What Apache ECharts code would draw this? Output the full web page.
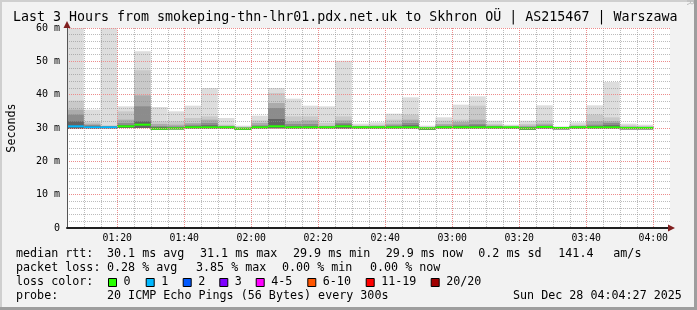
<!DOCTYPE html>
<html><head><meta charset="utf-8">
<script src="https://cdn.jsdelivr.net/npm/echarts@6.0.0/dist/echarts.min.js"></script>
<style>html,body{margin:0;padding:0;background:#f2f2f2}#c{width:697px;height:310px}</style>
</head><body><div id="c"></div>
<script>
// ---- data (ms), one entry per 5-minute slot, slot start time ----
const times = ['01:05','01:10','01:15','01:20','01:25','01:30','01:35','01:40','01:45','01:50','01:55',
  '02:00','02:05','02:10','02:15','02:20','02:25','02:30','02:35','02:40','02:45','02:50','02:55',
  '03:00','03:05','03:10','03:15','03:20','03:25','03:30','03:35','03:40','03:45','03:50','03:55'];
const smokeMax = [60,35.5,60,36.5,53.0,36.3,35.0,36.7,42.0,33.0,30.7,
  33.7,42.0,38.8,36.7,36.5,50.2,31.3,31.7,34.3,39.2,30.7,33.2,
  37.0,39.5,32.2,31.0,32.2,36.8,30.5,31.7,36.8,43.8,31.3,31.0];
const smokeHi = [38.2,32.0,30.8,35.0,47.3,32.0,32.0,33.0,33.5,31.0,30.4,
  32.3,40.5,33.5,33.5,31.5,33.5,30.8,31.0,32.5,34.0,30.4,32.2,
  32.5,36.7,31.2,30.7,31.2,32.3,30.3,31.0,34.0,33.2,30.8,30.6];
const smokeMid = [35.5,31.3,30.6,32.5,39.8,31.2,31.0,31.5,32.5,30.7,30.2,
  31.5,37.5,32.0,32.3,30.7,32.3,30.6,30.7,31.3,32.5,30.2,31.2,
  31.8,32.5,30.8,30.5,30.7,31.3,30.2,30.7,32.0,32.0,30.5,30.4];
const smokeLo = [34.0,30.9,30.5,31.5,36.5,30.6,30.5,31.0,31.5,30.5,30.1,
  30.8,36.0,31.2,31.2,30.5,31.5,30.5,30.5,30.8,31.5,30.1,30.7,
  31.0,31.2,30.6,30.4,30.4,30.8,30.1,30.5,31.0,31.5,30.3,30.3];
const smokeCore = [32.0,30.6,30.4,30.9,32.0,30.3,30.2,30.6,30.8,30.4,30.0,
  30.5,32.7,30.6,30.6,30.4,31.0,30.4,30.4,30.5,30.8,30.0,30.5,
  30.6,30.7,30.4,30.3,30.2,30.5,30.05,30.4,30.6,30.8,30.2,30.2];
const smokeMin = [29.7,29.7,29.8,30.0,30.0,29.5,29.6,29.8,29.8,29.8,29.5,
  29.8,29.9,29.8,29.8,29.8,29.8,29.8,29.8,29.8,29.8,29.5,29.8,
  29.8,29.8,29.8,29.8,29.5,29.8,29.6,29.8,29.8,29.8,29.6,29.6];
const medianRtt = [30.5,30.2,30.2,30.5,31.0,29.8,29.9,30.2,30.2,30.2,29.8,
  30.2,30.5,30.2,30.2,30.2,30.5,30.2,30.2,30.2,30.2,29.9,30.2,
  30.2,30.2,30.2,30.2,29.9,30.3,30.0,30.2,30.2,30.2,30.0,30.0];
const lossCount = [1,1,1,0,0,0,0,0,0,0,0, 0,0,0,0,0,0,0,0,0,0,0,0, 0,0,0,0,0,0,0,0,0,0,0,0];
const lossLabels = ['0','1','2','3','4-5','6-10','11-19','20/20'];
const lossColors = ['#26ff00','#00b8ff','#0059ff','#7e00ff','#ff00ff','#ff5500','#ff0000','#a10000'];
const yTicks = [0,10,20,30,40,50,60];
const xRange = ['01:05','04:05'];
const xMajor = ['01:20','01:40','02:00','02:20','02:40','03:00','03:20','03:40','04:00'];
const STEP = 5; // minutes per slot (300 s)

const statRows = [
  ['median rtt:', ['30.1 ms avg','31.1 ms max','29.9 ms min','29.9 ms now','0.2 ms sd','141.4','am/s']],
  ['packet loss:', ['0.28 % avg','3.85 % max','0.00 % min','0.00 % now']],
];
const probeText = '20 ICMP Echo Pings (56 Bytes) every 300s';
const dateText = 'Sun Dec 28 04:04:27 2025';
const titleText = 'Last 3 Hours from smokeping-thn-lhr01.pdx.net.uk to Skhron OÜ | AS215467 | Warszawa';

// ---- helpers ----
const toMin = t => { const p = t.split(':'); return (+p[0]) * 60 + (+p[1]); };
const fmtMin = v => String(Math.floor(v / 60)).padStart(2, '0') + ':' + String(v % 60).padStart(2, '0');
const lossIndex = n => n === 0 ? 0 : n === 1 ? 1 : n === 2 ? 2 : n === 3 ? 3 : n <= 5 ? 4 : n <= 10 ? 5 : n <= 19 ? 6 : 7;
const MONO = 'DejaVu Sans Mono';
const minor = 'rgba(143,143,143,0.6)';
const major = '#ec8c8c';
const majorSet = new Set(xMajor.map(toMin));
// vertical grid positions (every slot boundary that is not a major line)
const xMinor = [];
for (let m = toMin(xRange[0]) + STEP; m < toMin(xRange[1]); m += STEP) if (!majorSet.has(m)) xMinor.push(m);

const bandTops = [smokeMax, smokeHi, smokeMid, smokeLo, smokeCore];
const bandColors = ['#dddddd', '#c9c9c9', '#ababab', '#8c8c8c', '#636363'];
const series = bandTops.map((tops, k) => ({
  type: 'custom', name: 'smoke' + k, z: 2 + k, silent: true,
  data: times.map((t, i) => [toMin(t), smokeMin[i], tops[i]]),
  encode: { x: 0, y: [1, 2] },
  renderItem: (params, api) => {
    const x0 = api.value(0);
    const a = api.coord([x0, api.value(2)]);
    const b = api.coord([x0 + STEP, api.value(1)]);
    return { type: 'rect', shape: { x: a[0], y: a[1], width: b[0] - a[0], height: b[1] - a[1] }, style: { fill: bandColors[k] } };
  }
}));
series.push({
  type: 'custom', name: 'median', z: 9, silent: true,
  data: times.map((t, i) => [toMin(t), medianRtt[i], lossCount[i]]),
  encode: { x: 0, y: 1 },
  renderItem: (params, api) => {
    const x0 = api.value(0);
    const a = api.coord([x0, api.value(1)]);
    const b = api.coord([x0 + STEP, api.value(1)]);
    return { type: 'rect', shape: { x: a[0], y: a[1] - 1, width: b[0] - a[0], height: 2 }, style: { fill: lossColors[lossIndex(api.value(2))] } };
  }
});
// vertical grid lines (minor every 5 min, major every 20 min), above the smoke like rrdtool
const vGrid = (name, values, color) => ({
  type: 'custom', name, z: 30, silent: true,
  data: values.map(v => [v]),
  encode: { x: 0 },
  renderItem: (params, api) => {
    const x = Math.round(api.coord([api.value(0), yTicks[0]])[0]) + 0.5;
    const yb = api.coord([api.value(0), yTicks[0]])[1];
    const yt = api.coord([api.value(0), yTicks[yTicks.length - 1]])[1];
    return { type: 'line', shape: { x1: x, y1: yt, x2: x, y2: yb }, style: { stroke: color, lineWidth: 1, lineDash: [1, 1] } };
  }
});
series.push(vGrid('minorGrid', xMinor, minor));
series.push(vGrid('majorGrid', xMajor.map(toMin), major));

// ---- text / decorations ----
const G = [];
const txt = (x, y, s, o) => G.push({ type: 'text', x, y, silent: true, z: 50,
  style: Object.assign({ text: s, fontSize: 11.7, fontFamily: MONO, fill: '#000', align: 'left', verticalAlign: 'middle', textAlign: 'left', textVerticalAlign: 'middle' }, o || {}) });
// frame
G.push({ type: 'rect', shape: { x: 0, y: 0, width: 697, height: 2 }, style: { fill: '#cfcfcf' }, silent: true });
G.push({ type: 'rect', shape: { x: 0, y: 0, width: 2, height: 310 }, style: { fill: '#cfcfcf' }, silent: true });
G.push({ type: 'rect', shape: { x: 0, y: 307, width: 697, height: 3 }, style: { fill: '#9e9e9e' }, silent: true });
G.push({ type: 'rect', shape: { x: 694, y: 0, width: 3, height: 310 }, style: { fill: '#9e9e9e' }, silent: true });
// arrows
G.push({ type: 'polygon', shape: { points: [[668, 224.5], [668, 231.5], [675, 228]] }, style: { fill: '#801f1f' }, silent: true, z: 50 });
G.push({ type: 'polygon', shape: { points: [[63.5, 28], [70.5, 28], [67, 21]] }, style: { fill: '#801f1f' }, silent: true, z: 50 });
txt(13, 18, titleText, { fontSize: 13.3 });
G.push({ type: 'text', x: 689, y: 5, rotation: -Math.PI / 2, silent: true,
  style: { text: 'RRDTOOL / TOBI OETIKER', fontSize: 8.3, fontFamily: MONO, fill: '#b8b8b8', align: 'right', verticalAlign: 'middle', textAlign: 'right', textVerticalAlign: 'middle' } });
G.push({ type: 'text', x: 12, y: 128, rotation: Math.PI / 2, silent: true, z: 50,
  style: { text: 'Seconds', fontSize: 11.7, fontFamily: MONO, fill: '#000', align: 'center', verticalAlign: 'middle', textAlign: 'center', textVerticalAlign: 'middle' } });
// stats rows
const statX = [[107, 200, 293, 385.7, 478.3, 558.3, 613.3], [107, 196, 282, 370]];
statRows.forEach((row, r) => {
  const y = 254.3 + r * 14;
  txt(16, y, row[0]);
  row[1].forEach((s, j) => txt(statX[r][j], y, s));
});
txt(16, 282.3, 'loss color:');
const boxX = [108, 145.7, 182.7, 219.3, 255.7, 307.3, 365.7, 430.7];
lossLabels.forEach((l, i) => {
  G.push({ type: 'rect', shape: { x: boxX[i] + 0.5, y: 278.5, width: 8, height: 8 }, style: { fill: lossColors[i], stroke: '#000', lineWidth: 1 }, silent: true, z: 50 });
  txt(boxX[i] + 15.5, 282.3, l);
});
txt(16, 296.3, 'probe:');
txt(107, 296.3, probeText);
txt(513, 296.3, dateText);

const chart = echarts.init(document.getElementById('c'), null, { renderer: 'canvas' });
chart.setOption({
  animation: false,
  backgroundColor: '#f2f2f2',
  grid: { left: 67, right: 27, top: 28, bottom: 82, show: true, backgroundColor: '#ffffff', borderWidth: 0,
    containLabel: false, outerBoundsMode: 'none' },
  xAxis: {
    type: 'value', min: toMin(xRange[0]), max: toMin(xRange[1]), interval: STEP, z: 40,
    axisLine: { show: true, onZero: false, lineStyle: { color: '#1f1f1f', width: 2 } },
    axisTick: { show: false },
    axisLabel: { margin: 5, fontSize: 9.8, fontFamily: MONO, color: '#000',
      formatter: v => majorSet.has(v) ? fmtMin(v) : '' },
    splitLine: { show: false }
  },
  yAxis: {
    type: 'value', min: yTicks[0], max: yTicks[yTicks.length - 1], interval: yTicks[1] - yTicks[0], z: 40,
    axisLine: { show: true, lineStyle: { color: '#555', width: 1 } },
    axisTick: { show: false },
    axisLabel: { margin: 7, fontSize: 10, fontFamily: MONO, color: '#000', formatter: v => v === 0 ? '0' : v + ' m' },
    splitLine: { show: true, lineStyle: { color: major, type: [1, 1], width: 1 } },
    minorTick: { show: false, splitNumber: 5 },
    minorSplitLine: { show: true, lineStyle: { color: minor, type: [1, 1], width: 1 } }
  },
  graphic: { elements: G },
  series
});
</script></body></html>
